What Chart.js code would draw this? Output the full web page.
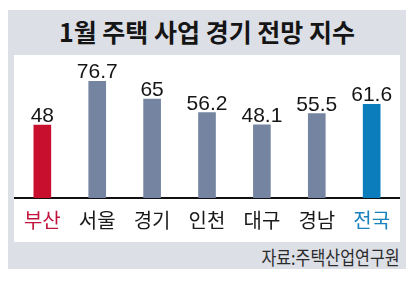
<!DOCTYPE html>
<html>
<head>
<meta charset="utf-8">
<script src="https://cdn.jsdelivr.net/npm/chart.js@4"></script>
<style>
  html, body { margin: 0; padding: 0; background: #fff; }
  body { width: 417px; height: 281px; position: relative; overflow: hidden; font-family: "Noto Sans CJK KR", "Noto Sans", sans-serif; }
  #panel { position: absolute; left: 8px; top: 10px; width: 398px; height: 259px; background: #dcdfe6; }
  #title { position: absolute; left: 8px; top: 10px; width: 398px; height: 43px; line-height: 43px; text-align: center; font-size: 25px; font-weight: bold; color: #151515; }
  #plot { position: absolute; left: 14px; top: 55px; width: 386px; height: 187px; background: #fff; }
  #source { position: absolute; right: 17px; top: 245px; font-size: 19px; line-height: 23px; color: #2a2a2a; transform: scaleX(0.85); transform-origin: right center; white-space: nowrap; }
</style>
</head>
<body>
<div id="panel"></div>
<div id="title">1월 주택 사업 경기 전망 지수</div>
<div id="plot"><canvas id="c" width="386" height="187"></canvas></div>
<div id="source">자료:주택산업연구원</div>
<script>
Chart.defaults.animation = false;
Chart.defaults.maintainAspectRatio = false;
Chart.defaults.plugins.legend.display = false;
Chart.defaults.plugins.tooltip.enabled = false;

const regions = ["부산", "서울", "경기", "인천", "대구", "경남", "전국"];
const values = [48, 76.7, 65, 56.2, 48.1, 55.5, 61.6];
const valueLabels = ["48", "76.7", "65", "56.2", "48.1", "55.5", "61.6"];

const RED = "#c8102e", SLATE = "#7585a1", BLUE = "#0b7dbd";
const barColors = regions.map((r) => (r === "부산" ? RED : r === "전국" ? BLUE : SLATE));
const tickColors = regions.map((r) => (r === "부산" ? "#c0143c" : r === "전국" ? "#1a82bd" : "#1a1a1a"));

// draws the numbers above each bar
const valueTags = {
  id: "valueTags",
  afterDatasetsDraw(chart) {
    const ctx = chart.ctx;
    const meta = chart.getDatasetMeta(0);
    ctx.save();
    ctx.font = '21px "Liberation Sans", Arial, sans-serif';
    ctx.fillStyle = "#151515";
    ctx.textAlign = "center";
    ctx.textBaseline = "alphabetic";
    meta.data.forEach((bar, i) => {
      ctx.fillText(valueLabels[i], bar.x, bar.y - 3);
    });
    ctx.restore();
  },
};

new Chart(document.getElementById("c").getContext("2d"), {
  type: "bar",
  data: {
    labels: regions,
    datasets: [{ data: values, backgroundColor: barColors, barThickness: 17 }],
  },
  options: {
    responsive: false,
    layout: { padding: { left: 0, right: 0, top: 0, bottom: 0 } },
    scales: {
      x: {
        grid: { display: false, drawTicks: false },
        border: { display: true, color: "#111", width: 2 },
        ticks: {
          color: tickColors,
          padding: 10,
          font: { size: 20, family: '"Noto Sans CJK KR", sans-serif' },
        },
      },
      y: { display: false, min: 0, max: 94 },
    },
  },
  plugins: [valueTags],
});
</script>
</body>
</html>
